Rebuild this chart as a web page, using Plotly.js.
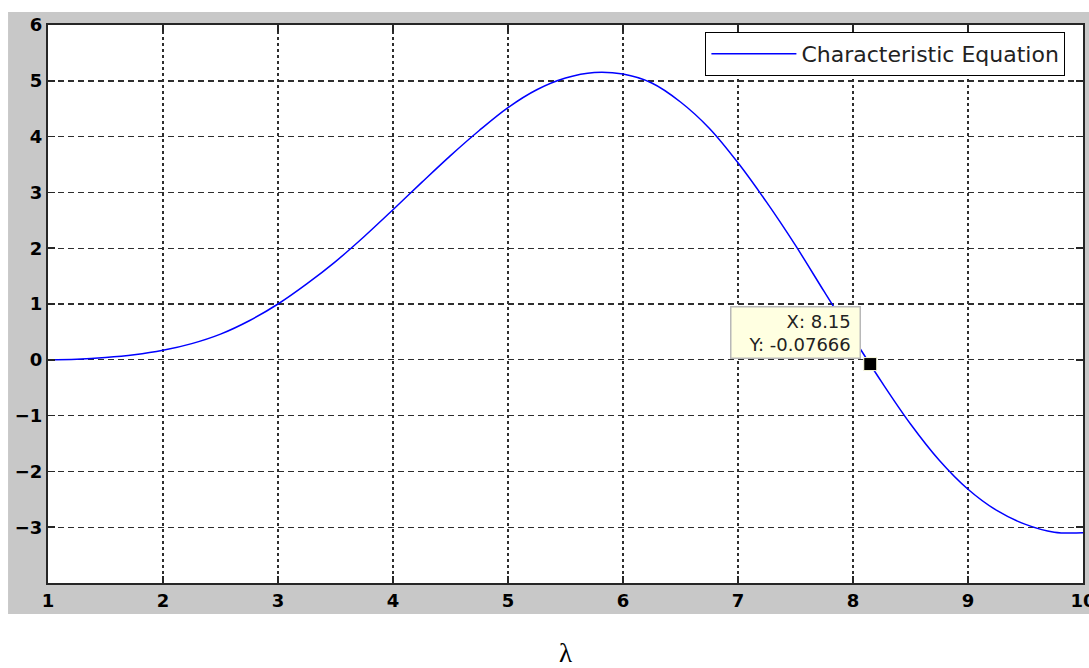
<!DOCTYPE html>
<html>
<head>
<meta charset="utf-8">
<script src="https://cdn.plot.ly/plotly-3.0.1.min.js"></script>
<style>html,body{margin:0;padding:0;background:#fff;} #chart{width:1089px;height:668px;}</style>
</head>
<body>
<div id="chart"></div>
<script>
// Curve samples
const lambdaVals = [1, 1.25, 1.5, 1.75, 2, 2.25, 2.5, 2.75, 3, 3.25, 3.5, 3.75, 4, 4.25, 4.5, 4.75, 5, 5.25, 5.5, 5.75, 6, 6.25, 6.5, 6.75, 7, 7.25, 7.5, 7.75, 8, 8.25, 8.5, 8.75, 9, 9.25, 9.5, 9.75, 10];
const charVals = [0, 0.01, 0.04, 0.09, 0.17, 0.29, 0.46, 0.70, 1.0, 1.36, 1.76, 2.21, 2.69, 3.18, 3.66, 4.11, 4.52, 4.84, 5.05, 5.15, 5.12, 4.96, 4.62, 4.15, 3.53, 2.82, 2.05, 1.22, 0.40, -0.40, -1.15, -1.80, -2.32, -2.70, -2.95, -3.09, -3.10];
// Data tip
const tipX = [8.15];
const tipY = [-0.07666];
// Ticks
const xTicks = [1, 2, 3, 4, 5, 6, 7, 8, 9, 10];
const yTicks = [-3, -2, -1, 0, 1, 2, 3, 4, 5, 6];

const traces = [
  {
    x: lambdaVals, y: charVals, type: 'scatter', mode: 'lines',
    name: 'Characteristic Equation',
    line: {color: '#0000ff', width: 1.5, shape: 'spline', smoothing: 1}
  },
  {
    x: tipX, y: tipY, type: 'scatter', mode: 'markers', showlegend: false,
    marker: {symbol: 'square', size: 13, color: '#000000', line: {color: '#ffffe0', width: 1}}
  }
];

const axisCommon = {
  showline: true, linecolor: '#262626', linewidth: 2, mirror: 'ticks',
  ticks: 'inside', ticklen: 7, tickwidth: 1.5, tickcolor: '#262626',
  showgrid: true, gridcolor: '#2e2e2e', gridwidth: 1.4,
  zeroline: false, ticklabeloverflow: 'allow',
  tickfont: {family: 'DejaVu Sans', size: 18, color: '#000', weight: 'bold'}
};

const layout = {
  width: 1089, height: 668,
  margin: {l: 48, r: 6, t: 25, b: 85},
  paper_bgcolor: '#ffffff',
  plot_bgcolor: 'rgba(0,0,0,0)',
  showlegend: true,
  xaxis: Object.assign({}, axisCommon, {
    range: [1, 10], tickvals: xTicks, griddash: '3px,3px',
    title: {text: 'λ', font: {family: 'Liberation Serif', size: 27, color: '#000'}, standoff: 36}
  }),
  yaxis: Object.assign({}, axisCommon, {
    range: [-4, 6], tickvals: yTicks, griddash: '6px,4px'
  }),
  legend: {
    x: 0.983, xanchor: 'right', y: 0.9875, yanchor: 'top',
    bgcolor: '#ffffff', bordercolor: '#000000', borderwidth: 1,
    font: {family: 'DejaVu Sans', size: 22, color: '#222'},
    itemwidth: 85
  },
  shapes: [
    {type: 'rect', xref: 'paper', yref: 'paper', x0: -0.0386, x1: 1.01, y0: -0.0556, y1: 1.0233,
     fillcolor: '#c8c8c8', line: {width: 0}, layer: 'below'},
    {type: 'rect', xref: 'paper', yref: 'paper', x0: 0, x1: 1, y0: 0, y1: 1,
     fillcolor: '#ffffff', line: {width: 0}, layer: 'below'}
  ],
  annotations: [
    {x: tipX[0], y: tipY[0], xref: 'x', yref: 'y', showarrow: false,
     xanchor: 'right', yanchor: 'bottom', xshift: -9, yshift: 5,
     text: 'X: ' + tipX[0] + '&nbsp;<br>Y: ' + tipY[0] + '&nbsp;', align: 'right',
     width: 122,
     font: {family: 'DejaVu Sans', size: 18, color: '#222'},
     bgcolor: '#ffffe1', bordercolor: '#b8b8b8', borderwidth: 1.5, borderpad: 3}
  ]
};

Plotly.newPlot('chart', traces, layout, {displayModeBar: false, staticPlot: true});
</script>
</body>
</html>
